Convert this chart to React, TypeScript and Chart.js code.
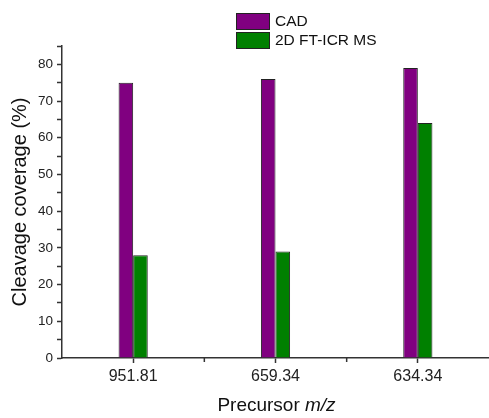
import { useEffect, useRef } from "react";
import { Chart, registerables } from "chart.js";

Chart.register(...registerables);

const categories = ["951.81", "659.34", "634.34"];
const cadValues = [75, 76, 79];
const ftIcrValues = [28, 29, 64];
const seriesLabels = ["CAD", "2D FT-ICR MS"];
const seriesColors = ["#800080", "#008000"];
const yMin = 0;
const yMax = 85;
const yStep = 5;
const yLabelStep = 10;
const yTitle = "Cleavage coverage (%)";
const xTitlePlain = "Precursor ";
const xTitleItalic = "m/z";

const FONT = '"Liberation Sans", Arial, Helvetica, sans-serif';
const AXIS_COLOR = "#333333";

const overlayPlugin = {
  id: "overlay",
  afterDraw(chart: any) {
    const ctx = chart.ctx as CanvasRenderingContext2D;
    const xs = chart.scales.x;
    const area = chart.chartArea;
    ctx.save();
    // minor ticks between categories
    ctx.strokeStyle = AXIS_COLOR;
    ctx.lineWidth = 1.5;
    for (let i = 0; i < categories.length - 1; i++) {
      const px = (xs.getPixelForValue(i) + xs.getPixelForValue(i + 1)) / 2;
      ctx.beginPath();
      ctx.moveTo(px, area.bottom);
      ctx.lineTo(px, area.bottom + 4);
      ctx.stroke();
    }
    // legend
    chart.data.datasets.forEach((ds: any, i: number) => {
      const bx = 236;
      const by = 13 + i * 19;
      const bw = 34;
      const bh = 17;
      ctx.fillStyle = ds.backgroundColor;
      ctx.fillRect(bx, by, bw, bh);
      ctx.strokeStyle = "#222";
      ctx.lineWidth = 1;
      ctx.strokeRect(bx + 0.5, by + 0.5, bw - 1, bh - 1);
      ctx.fillStyle = "#111";
      ctx.font = `15.5px ${FONT}`;
      ctx.textBaseline = "middle";
      ctx.textAlign = "left";
      ctx.fillText(ds.label, 275, by + bh / 2 + 0.5);
    });
    // x title with italic m/z
    const normalFont = `19px ${FONT}`;
    const italicFont = `italic 19px ${FONT}`;
    ctx.font = normalFont;
    const w1 = ctx.measureText(xTitlePlain).width;
    ctx.font = italicFont;
    const w2 = ctx.measureText(xTitleItalic).width;
    const cx = (area.left + area.right) / 2 + 1;
    const startX = cx - (w1 + w2) / 2;
    const ty = 406;
    ctx.fillStyle = "#111";
    ctx.textBaseline = "middle";
    ctx.textAlign = "left";
    ctx.font = normalFont;
    ctx.fillText(xTitlePlain, startX, ty);
    ctx.font = italicFont;
    ctx.fillText(xTitleItalic, startX + w1, ty);
    ctx.restore();
  },
};

export default function App() {
  const canvasRef = useRef<HTMLCanvasElement | null>(null);

  useEffect(() => {
    document.body.style.margin = "0";
    const canvas = canvasRef.current;
    if (!canvas) return;
    const chart = new Chart(canvas, {
      type: "bar",
      data: {
        labels: categories,
        datasets: [
          {
            label: seriesLabels[0],
            data: cadValues,
            backgroundColor: seriesColors[0],
            borderColor: "#222",
            borderWidth: 1,
            categoryPercentage: 0.205,
            barPercentage: 1,
          },
          {
            label: seriesLabels[1],
            data: ftIcrValues,
            backgroundColor: seriesColors[1],
            borderColor: "#222",
            borderWidth: 1,
            categoryPercentage: 0.205,
            barPercentage: 1,
          },
        ],
      },
      options: {
        animation: false,
        responsive: true,
        maintainAspectRatio: false,
        layout: { padding: { top: 46, right: 0, bottom: 0, left: 0 } },
        plugins: {
          legend: { display: false },
          tooltip: { enabled: false },
        },
        scales: {
          x: {
            offset: true,
            grid: {
              offset: false,
              drawOnChartArea: false,
              drawTicks: true,
              tickLength: 5,
              tickColor: AXIS_COLOR,
              tickWidth: 1.5,
            },
            border: { display: true, color: AXIS_COLOR, width: 1.5 },
            ticks: {
              color: "#222",
              font: { family: FONT, size: 16 },
              padding: 4,
              maxRotation: 0,
            },
            afterFit(scale: any) {
              scale.height = 60;
            },
          },
          y: {
            min: yMin,
            max: yMax,
            grid: {
              drawOnChartArea: false,
              drawTicks: true,
              tickLength: 5,
              tickColor: AXIS_COLOR,
              tickWidth: 1.5,
            },
            border: { display: true, color: AXIS_COLOR, width: 1.5 },
            ticks: {
              stepSize: yStep,
              color: "#222",
              font: { family: FONT, size: 13.5 },
              padding: 4,
              autoSkip: false,
              callback: (v: any) => (Number(v) % yLabelStep === 0 ? String(v) : ""),
            },
            title: {
              display: true,
              text: yTitle,
              color: "#111",
              font: { family: FONT, size: 20 },
              padding: { top: 8, bottom: 0 },
            },
            afterFit(scale: any) {
              scale.width = 62;
            },
          },
        },
      },
      plugins: [overlayPlugin],
    });
    return () => chart.destroy();
  }, []);

  return (
    <div style={{ position: "relative", width: 489, height: 418 }}>
      <canvas ref={canvasRef} />
    </div>
  );
}
